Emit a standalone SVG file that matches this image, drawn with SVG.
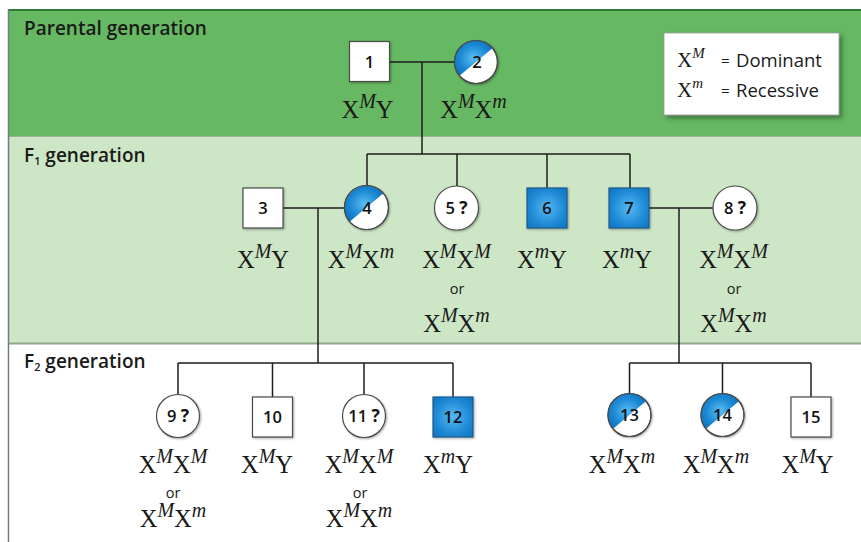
<svg xmlns="http://www.w3.org/2000/svg" width="861" height="542" viewBox="0 0 861 542">
  <defs>
    <radialGradient id="blueHalf" cx="50%" cy="50%" r="65%">
      <stop offset="0" stop-color="#5cbdf4"/>
      <stop offset="0.55" stop-color="#1c8ad6"/>
      <stop offset="1" stop-color="#0a6cb8"/>
    </radialGradient>
    <radialGradient id="blueSquare" cx="50%" cy="50%" r="70%">
      <stop offset="0" stop-color="#55b8f2"/>
      <stop offset="0.6" stop-color="#1f8ad6"/>
      <stop offset="1" stop-color="#0f72bf"/>
    </radialGradient>
    <filter id="soft" x="-30%" y="-30%" width="160%" height="160%">
      <feDropShadow dx="1" dy="1" stdDeviation="1.2" flood-color="#000" flood-opacity="0.35"/>
    </filter>
    <filter id="boxShadow" x="-10%" y="-10%" width="125%" height="130%">
      <feDropShadow dx="3" dy="3" stdDeviation="2" flood-color="#1f4a1f" flood-opacity="0.55"/>
    </filter>
  </defs>
  <style>
    .title { font-family: "Open Sans", "DejaVu Sans", sans-serif; font-weight: 600; font-size: 19px; fill: #1a1a1a; }
    .sub { font-size: 11px; }
    .num { font-family: "Open Sans", "DejaVu Sans", sans-serif; font-weight: 600; font-size: 16.5px; text-anchor: middle; fill: #111; }
    .q { font-weight: bold; font-size: 17.5px; }
    .geno { font-family: "Liberation Serif", "DejaVu Serif", serif; font-size: 24.5px; text-anchor: middle; fill: #1a1a1a; }
    .sup { font-style: italic; font-size: 20px; }
    .or { font-family: "Open Sans", "DejaVu Sans", sans-serif; font-size: 14.5px; text-anchor: middle; fill: #1a1a1a; }
    .link { stroke: #1e1e1e; stroke-width: 1.5; fill: none; }
    .sq { fill: #fff; stroke: #4a4a4a; stroke-width: 1.2; filter: url(#soft); }
    .sq-aff { fill: url(#blueSquare); stroke: #1b5a8e; stroke-width: 1.2; filter: url(#soft); }
    .circ { fill: #fff; stroke: #4a4a4a; stroke-width: 1.2; filter: url(#soft); }
    .ring { fill: none; stroke: #4a4a4a; stroke-width: 1.2; }
    .half { fill: url(#blueHalf); }
    .legend-x { font-family: "Liberation Serif", "DejaVu Serif", serif; font-size: 21px; fill: #1a1a1a; }
    .legend-sup { font-style: italic; font-size: 15px; }
    .legend-t { font-family: "Open Sans", "DejaVu Sans", sans-serif; font-size: 18.5px; fill: #1a1a1a; }
    .legend-eq { font-family: "Open Sans", "DejaVu Sans", sans-serif; font-size: 15px; fill: #1a1a1a; }
  </style>

  <!-- generation bands -->
  <rect x="8" y="10" width="853" height="127" fill="#67b862"/>
  <rect x="8" y="137" width="853" height="206" fill="#cde6c6"/>
  <line x1="8" y1="136.5" x2="861" y2="136.5" stroke="#9bb59a" stroke-width="1.2"/>
  <line x1="8" y1="343.5" x2="861" y2="343.5" stroke="#8fa78c" stroke-width="1.8"/>
  <line x1="8" y1="10" x2="861" y2="10" stroke="#2f7a34" stroke-width="2"/>
  <line x1="8.5" y1="9" x2="8.5" y2="542" stroke="#6f7d86" stroke-width="1.5"/>

  <text class="title" x="24" y="35">Parental generation</text>
  <text class="title" x="24" y="162">F<tspan class="sub" dy="3">1</tspan><tspan dy="-3"> generation</tspan></text>
  <text class="title" x="24" y="368">F<tspan class="sub" dy="3">2</tspan><tspan dy="-3"> generation</tspan></text>

  <!-- legend -->
  <g id="legend">
    <rect x="664" y="33" width="175" height="82" fill="#fff" stroke="#9a9a9a" stroke-width="0.8" filter="url(#boxShadow)"/>
    <text class="legend-x" x="677" y="67">X<tspan class="legend-sup" dy="-9">M</tspan></text>
    <text class="legend-eq" x="721" y="66">=</text>
    <text class="legend-t" x="736" y="67">Dominant</text>
    <text class="legend-x" x="677" y="97">X<tspan class="legend-sup" dy="-9">m</tspan></text>
    <text class="legend-eq" x="721" y="96">=</text>
    <text class="legend-t" x="736" y="97">Recessive</text>
  </g>

  <!-- connectors -->
  <g id="connectors" class="link">
    <!-- parents 1 x 2 -->
    <path d="M389.5,62 H454.5 M422,62 V154"/>
    <!-- F1 sibship -->
    <path d="M367,154 H630 M367,154 V185.5 M457,154 V186 M547,154 V188 M630,154 V188"/>
    <!-- 3 x 4 -->
    <path d="M283,208 H344.5 M318,208 V363"/>
    <!-- 7 x 8 -->
    <path d="M649,208 H713 M679,208 V363"/>
    <!-- F2 sibship of 3 x 4 -->
    <path d="M178,363 H453 M178,363 V394.5 M272.5,363 V397 M364,363 V394.5 M453,363 V397"/>
    <!-- F2 sibship of 7 x 8 -->
    <path d="M629.5,363 H811 M629.5,363 V393.5 M722.5,363 V393.5 M811,363 V397"/>
  </g>

  <!-- parental generation -->
  <g id="node-1">
    <rect class="sq" x="349.5" y="41.5" width="40" height="40"/>
    <text class="num" x="369.5" y="67.5">1</text>
    <text class="geno" x="367.5" y="118">X<tspan class="sup" dy="-10">M</tspan><tspan dy="10">Y</tspan></text>
  </g>
  <g id="node-2">
    <circle class="circ" cx="476" cy="62" r="21.5"/>
    <path class="half" d="M459.53,75.82 A21.5,21.5 0 0 1 492.47,48.18 Z"/>
    <circle class="ring" cx="476" cy="62" r="21.5"/>
    <text class="num" x="477" y="68">2</text>
    <text class="geno" x="473.5" y="118">X<tspan class="sup" dy="-10">M</tspan><tspan dy="10">X</tspan><tspan class="sup" dy="-10">m</tspan></text>
  </g>

  <!-- F1 generation -->
  <g id="node-3">
    <rect class="sq" x="243" y="188" width="40" height="40"/>
    <text class="num" x="263" y="214">3</text>
    <text class="geno" x="263" y="268">X<tspan class="sup" dy="-10">M</tspan><tspan dy="10">Y</tspan></text>
  </g>
  <g id="node-4">
    <circle class="circ" cx="366.5" cy="207.5" r="22"/>
    <path class="half" d="M349.65,221.64 A22,22 0 0 1 383.35,193.36 Z"/>
    <circle class="ring" cx="366.5" cy="207.5" r="22"/>
    <text class="num" x="367" y="213.5">4</text>
    <text class="geno" x="361" y="268">X<tspan class="sup" dy="-10">M</tspan><tspan dy="10">X</tspan><tspan class="sup" dy="-10">m</tspan></text>
  </g>
  <g id="node-5">
    <circle class="circ" cx="456.5" cy="208" r="22"/>
    <text class="num" x="456.5" y="214">5 <tspan class="q">?</tspan></text>
    <text class="geno" x="456.5" y="268">X<tspan class="sup" dy="-10">M</tspan><tspan dy="10">X</tspan><tspan class="sup" dy="-10">M</tspan></text>
    <text class="or" x="457" y="294">or</text>
    <text class="geno" x="456.5" y="332">X<tspan class="sup" dy="-10">M</tspan><tspan dy="10">X</tspan><tspan class="sup" dy="-10">m</tspan></text>
  </g>
  <g id="node-6">
    <rect class="sq-aff" x="527" y="188" width="40" height="40"/>
    <text class="num" x="547" y="214">6</text>
    <text class="geno" x="542" y="268">X<tspan class="sup" dy="-10">m</tspan><tspan dy="10">Y</tspan></text>
  </g>
  <g id="node-7">
    <rect class="sq-aff" x="609" y="188" width="40" height="40"/>
    <text class="num" x="629" y="214">7</text>
    <text class="geno" x="627" y="268">X<tspan class="sup" dy="-10">m</tspan><tspan dy="10">Y</tspan></text>
  </g>
  <g id="node-8">
    <circle class="circ" cx="735" cy="208" r="22"/>
    <text class="num" x="735" y="214">8 <tspan class="q">?</tspan></text>
    <text class="geno" x="733.5" y="268">X<tspan class="sup" dy="-10">M</tspan><tspan dy="10">X</tspan><tspan class="sup" dy="-10">M</tspan></text>
    <text class="or" x="734" y="294">or</text>
    <text class="geno" x="733.5" y="332">X<tspan class="sup" dy="-10">M</tspan><tspan dy="10">X</tspan><tspan class="sup" dy="-10">m</tspan></text>
  </g>

  <!-- F2 generation -->
  <g id="node-9">
    <circle class="circ" cx="178" cy="416" r="21.5"/>
    <text class="num" x="178" y="422">9 <tspan class="q">?</tspan></text>
    <text class="geno" x="173" y="473">X<tspan class="sup" dy="-10">M</tspan><tspan dy="10">X</tspan><tspan class="sup" dy="-10">M</tspan></text>
    <text class="or" x="173" y="498">or</text>
    <text class="geno" x="173" y="527">X<tspan class="sup" dy="-10">M</tspan><tspan dy="10">X</tspan><tspan class="sup" dy="-10">m</tspan></text>
  </g>
  <g id="node-10">
    <rect class="sq" x="252.5" y="397" width="40" height="40"/>
    <text class="num" x="272.5" y="423">10</text>
    <text class="geno" x="267" y="473">X<tspan class="sup" dy="-10">M</tspan><tspan dy="10">Y</tspan></text>
  </g>
  <g id="node-11">
    <circle class="circ" cx="364" cy="416" r="21.5"/>
    <text class="num" x="364" y="422">11 <tspan class="q">?</tspan></text>
    <text class="geno" x="359" y="473">X<tspan class="sup" dy="-10">M</tspan><tspan dy="10">X</tspan><tspan class="sup" dy="-10">M</tspan></text>
    <text class="or" x="360" y="498">or</text>
    <text class="geno" x="359" y="527">X<tspan class="sup" dy="-10">M</tspan><tspan dy="10">X</tspan><tspan class="sup" dy="-10">m</tspan></text>
  </g>
  <g id="node-12">
    <rect class="sq-aff" x="433" y="397" width="40" height="40"/>
    <text class="num" x="453" y="423">12</text>
    <text class="geno" x="448" y="473">X<tspan class="sup" dy="-10">m</tspan><tspan dy="10">Y</tspan></text>
  </g>
  <g id="node-13">
    <circle class="circ" cx="629.5" cy="415" r="21.5"/>
    <path class="half" d="M613.03,428.82 A21.5,21.5 0 0 1 645.97,401.18 Z"/>
    <circle class="ring" cx="629.5" cy="415" r="21.5"/>
    <text class="num" x="629.5" y="421">13</text>
    <text class="geno" x="622" y="473">X<tspan class="sup" dy="-10">M</tspan><tspan dy="10">X</tspan><tspan class="sup" dy="-10">m</tspan></text>
  </g>
  <g id="node-14">
    <circle class="circ" cx="722.5" cy="415" r="21.5"/>
    <path class="half" d="M706.03,428.82 A21.5,21.5 0 0 1 738.97,401.18 Z"/>
    <circle class="ring" cx="722.5" cy="415" r="21.5"/>
    <text class="num" x="722.5" y="421">14</text>
    <text class="geno" x="716" y="473">X<tspan class="sup" dy="-10">M</tspan><tspan dy="10">X</tspan><tspan class="sup" dy="-10">m</tspan></text>
  </g>
  <g id="node-15">
    <rect class="sq" x="791" y="397" width="40" height="40"/>
    <text class="num" x="811" y="423">15</text>
    <text class="geno" x="807.5" y="473">X<tspan class="sup" dy="-10">M</tspan><tspan dy="10">Y</tspan></text>
  </g>
</svg>
